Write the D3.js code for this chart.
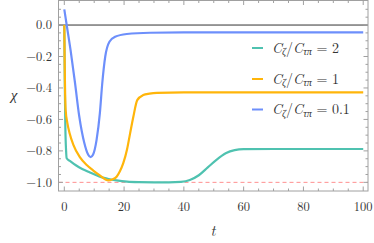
<!DOCTYPE html>
<html><head><meta charset="utf-8">
<script src="https://cdn.jsdelivr.net/npm/d3@7"></script>
<style>body{margin:0;background:#fff}svg{display:block}</style>
</head><body>
<svg id="c" width="374" height="243"></svg>
<script>
// ---- data ----
const tealT = [0,0.15,0.35,0.6,0.8,2,4,6,8.6,11.9,14.5,17.5,21,25,30,35,39,42,45,48,51,54,57,60,70,85,100];
const tealV = [0,-0.35,-0.65,-0.80,-0.847,-0.865,-0.893,-0.915,-0.937,-0.964,-0.977,-0.988,-0.996,-0.999,-1.0,-1.0,-0.997,-0.985,-0.955,-0.905,-0.855,-0.815,-0.795,-0.789,-0.788,-0.788,-0.788];
const orangeT = [0,0.1,0.25,0.45,1,1.8,3,5.2,7.5,9.7,12,14.7,16,17.5,18.6,19.7,21,22,23.1,24.4,26.4,28.5,31,40,60,100];
const orangeV = [0,-0.2,-0.4,-0.54,-0.62,-0.69,-0.76,-0.84,-0.89,-0.925,-0.957,-0.987,-0.982,-0.964,-0.93,-0.88,-0.79,-0.69,-0.583,-0.477,-0.445,-0.436,-0.431,-0.428,-0.428,-0.428];
const blueT = [0,0.8,2.1,3.6,5,6.7,8,8.8,9.6,10.8,11.9,12.7,13.7,15.1,17,20.9,28.7,40,60,100];
const blueV = [0.1,0.0,-0.16,-0.37,-0.58,-0.75,-0.825,-0.84,-0.825,-0.73,-0.56,-0.37,-0.2,-0.106,-0.075,-0.057,-0.049,-0.047,-0.047,-0.047];
const seriesNames = ["2","1","0.1"];
const seriesColors = ["#4fc2b0","#ffb50a","#6d8ffb"];
const xTicks = [0,20,40,60,80,100];
const yTicks = [-1.0,-0.8,-0.6,-0.4,-0.2,0.0];

const svg = d3.select("#c");
const L=58.5,R=368,T=0.5,B=191;
const x = d3.scaleLinear().domain([-1.94,101.6]).range([L,R]);
const y = d3.scaleLinear().domain([-1.055,0.156]).range([B,T]);

const frameCol="#a0a0a0", labelCol="#333";
const FONT='"Latin Modern Roman"';

svg.append("line").attr("x1",L).attr("x2",R).attr("y1",y(0)).attr("y2",y(0))
  .attr("stroke","#333").attr("stroke-width",1);
svg.append("line").attr("x1",L).attr("x2",R).attr("y1",y(-1)).attr("y2",y(-1))
  .attr("stroke","#ff8f8f").attr("stroke-width",1).attr("stroke-dasharray","4,3");

const line = d3.line().x(d=>x(d[0])).y(d=>y(d[1])).curve(d3.curveMonotoneX);
const sets = [[tealT,tealV],[orangeT,orangeV],[blueT,blueV]];
svg.append("clipPath").attr("id","pc").append("rect")
  .attr("x",L).attr("y",T).attr("width",R-L).attr("height",B-T);
sets.forEach((s,i)=>{
  const pts = s[0].map((t,j)=>[t,s[1][j]]);
  svg.append("path").attr("d",line(pts)).attr("fill","none")
    .attr("stroke",seriesColors[i]).attr("stroke-width",2.2)
    .attr("stroke-linejoin","round").attr("clip-path","url(#pc)");
});

svg.append("rect").attr("x",L).attr("y",T).attr("width",R-L).attr("height",B-T)
  .attr("fill","none").attr("stroke",frameCol).attr("stroke-width",1);

d3.range(0,101,5).forEach(v=>{
  const major = v%20===0, len = major?4.5:2.5;
  svg.append("line").attr("x1",x(v)).attr("x2",x(v)).attr("y1",B).attr("y2",B-len).attr("stroke",frameCol);
  svg.append("line").attr("x1",x(v)).attr("x2",x(v)).attr("y1",T).attr("y2",T+len).attr("stroke",frameCol);
});
d3.range(-20,3).map(k=>k*0.05).forEach(v=>{
  const major = Math.abs(Math.round(v*100)%20)===0, len = major?4.5:2.5;
  svg.append("line").attr("y1",y(v)).attr("y2",y(v)).attr("x1",L).attr("x2",L+len).attr("stroke",frameCol);
  svg.append("line").attr("y1",y(v)).attr("y2",y(v)).attr("x1",R).attr("x2",R-len).attr("stroke",frameCol);
});

const fmt = v => (v<0?"\u2212":"")+Math.abs(v).toFixed(1);
xTicks.forEach(v=>{
  svg.append("text").attr("x",x(v)).attr("y",211).attr("text-anchor","middle")
    .style("font-family",FONT).style("font-size","12.5px").attr("fill",labelCol).text(v);
});
yTicks.forEach(v=>{
  svg.append("text").attr("x",52).attr("y",y(v)+4.3).attr("text-anchor","end")
    .style("font-family",FONT).style("font-size","12.5px").attr("fill",labelCol).text(fmt(v));
});

svg.append("text").attr("x",213).attr("y",236).attr("text-anchor","middle")
  .style("font-family",FONT).style("font-style","italic").style("font-size","15px").attr("fill",labelCol).text("t");
svg.append("text").attr("x",14).attr("y",100).attr("text-anchor","middle")
  .style("font-family",FONT).style("font-style","italic").style("font-size","15px").attr("fill",labelCol).text("\u03c7");

const legY = [48,79,109.5];
seriesNames.forEach((n,i)=>{
  svg.append("line").attr("x1",252).attr("x2",263).attr("y1",legY[i]).attr("y2",legY[i])
    .attr("stroke",seriesColors[i]).attr("stroke-width",2);
  const t = svg.append("text").attr("x",272).attr("y",legY[i]+4.8)
    .style("font-family",FONT).style("font-size","14px").attr("fill",labelCol);
  t.append("tspan").style("font-style","italic").text("C");
  t.append("tspan").style("font-style","italic").style("font-size","10px").attr("dy",2.5).text("\u03b6");
  t.append("tspan").attr("dy",-2.5).text("/");
  t.append("tspan").style("font-style","italic").text("C");
  t.append("tspan").style("font-style","italic").style("font-size","10px").attr("dy",2.5).text("\u03c4\u03c0");
  t.append("tspan").attr("dy",-2.5).text(" = "+n);
});
</script>
</body></html>
